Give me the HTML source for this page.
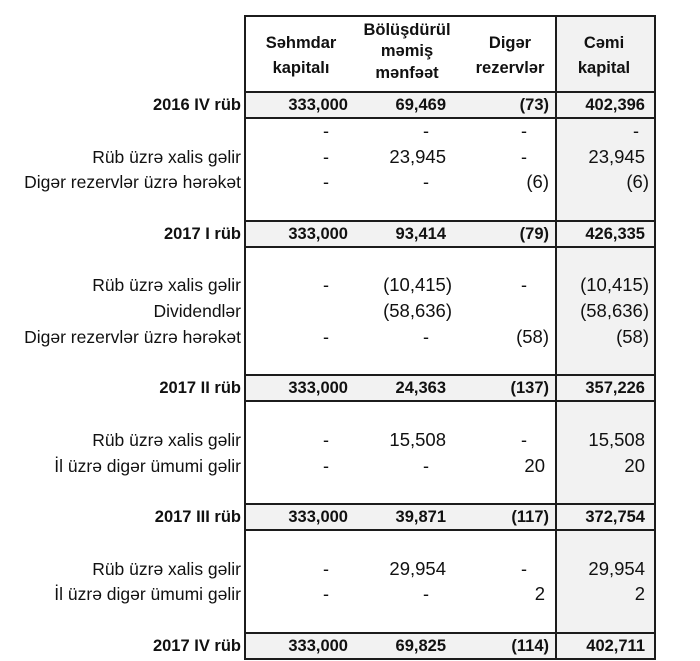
<!DOCTYPE html>
<html>
<head>
<meta charset="utf-8">
<style>
html,body{margin:0;padding:0;background:#fff;}
#c{position:relative;width:700px;height:661px;overflow:hidden;background:#fff;font-family:"Liberation Sans",Arial,sans-serif;color:#111;}
.ln{position:absolute;background:#1c1c1c;}
.g{position:absolute;background:#f2f2f2;}
.r{position:absolute;left:0;width:700px;height:25.76px;}
.r span{position:absolute;top:0;line-height:26px;white-space:nowrap;}
.l{right:459px;font-size:17.5px;}
.b .l{font-weight:bold;font-size:16.5px;}
.d1{left:323px;font-size:18px;}
.d2{left:423px;font-size:18px;}
.d3{left:521px;font-size:18px;}
.d4{left:633px;font-size:18px;}
.p1{right:352px;}
.p2{right:254px;}
.p3{right:155px;}
.p4{right:55px;}
.n2{right:248px;}
.n3{right:151px;}
.n4{right:51px;}
.r .v{font-size:18.5px;}
.b .v{font-size:16.5px;font-weight:bold;}
.h{position:absolute;top:18.5px;height:75px;display:flex;align-items:center;justify-content:center;text-align:center;font-weight:bold;font-size:16.5px;line-height:25px;}
.h3{top:14.5px;line-height:21.5px;}
</style>
</head>
<body>
<div id="c">
<!-- gray column 4 -->
<div class="g" style="left:557px;top:17px;width:97px;height:642px;"></div>
<!-- gray total rows -->
<div class="g" style="left:246px;top:93px;width:409px;height:24px;"></div>
<div class="g" style="left:246px;top:222px;width:409px;height:24px;"></div>
<div class="g" style="left:246px;top:376px;width:409px;height:24px;"></div>
<div class="g" style="left:246px;top:505px;width:409px;height:24px;"></div>
<div class="g" style="left:246px;top:634px;width:409px;height:24px;"></div>

<!-- borders -->
<div class="ln" style="left:244px;top:15px;width:412px;height:2px;"></div>
<div class="ln" style="left:244px;top:15px;width:2px;height:645px;"></div>
<div class="ln" style="left:654px;top:15px;width:2px;height:645px;"></div>
<div class="ln" style="left:555px;top:15px;width:2px;height:645px;"></div>

<div class="ln" style="left:244px;top:91px;width:412px;height:2px;"></div>
<div class="ln" style="left:244px;top:117px;width:412px;height:2px;"></div>
<div class="ln" style="left:244px;top:220px;width:412px;height:2px;"></div>
<div class="ln" style="left:244px;top:245.5px;width:412px;height:2px;"></div>
<div class="ln" style="left:244px;top:374.4px;width:412px;height:2px;"></div>
<div class="ln" style="left:244px;top:400.1px;width:412px;height:2px;"></div>
<div class="ln" style="left:244px;top:503.2px;width:412px;height:2px;"></div>
<div class="ln" style="left:244px;top:528.9px;width:412px;height:2px;"></div>
<div class="ln" style="left:244px;top:632px;width:412px;height:2px;"></div>
<div class="ln" style="left:244px;top:657.7px;width:412px;height:2px;"></div>

<!-- header -->
<div class="h" style="left:251px;width:100px;">Səhmdar<br>kapitalı</div>
<div class="h h3" style="left:357px;width:100px;">Bölüşdürül<br>məmiş<br>mənfəət</div>
<div class="h" style="left:460px;width:100px;">Digər<br>rezervlər</div>
<div class="h" style="left:554px;width:100px;">Cəmi<br>kapital</div>

<!-- row 0 -->
<div class="r b" style="top:92px;"><span class="l">2016 IV rüb</span><span class="v p1">333,000</span><span class="v p2">69,469</span><span class="v n3">(73)</span><span class="v p4">402,396</span></div>
<!-- row 1 -->
<div class="r" style="top:117.76px;"><span class="d1">-</span><span class="d2">-</span><span class="d3">-</span><span class="d4">-</span></div>
<!-- row 2 -->
<div class="r" style="top:143.52px;"><span class="l">Rüb üzrə xalis gəlir</span><span class="d1">-</span><span class="v p2">23,945</span><span class="d3">-</span><span class="v p4">23,945</span></div>
<!-- row 3 -->
<div class="r" style="top:169.28px;"><span class="l">Digər rezervlər üzrə hərəkət</span><span class="d1">-</span><span class="d2">-</span><span class="v n3">(6)</span><span class="v n4">(6)</span></div>
<!-- row 5 -->
<div class="r b" style="top:220.8px;"><span class="l">2017 I rüb</span><span class="v p1">333,000</span><span class="v p2">93,414</span><span class="v n3">(79)</span><span class="v p4">426,335</span></div>
<!-- row 7 -->
<div class="r" style="top:272.32px;"><span class="l">Rüb üzrə xalis gəlir</span><span class="d1">-</span><span class="v n2">(10,415)</span><span class="d3">-</span><span class="v n4">(10,415)</span></div>
<!-- row 8 -->
<div class="r" style="top:298.08px;"><span class="l">Dividendlər</span><span class="v n2">(58,636)</span><span class="v n4">(58,636)</span></div>
<!-- row 9 -->
<div class="r" style="top:323.84px;"><span class="l">Digər rezervlər üzrə hərəkət</span><span class="d1">-</span><span class="d2">-</span><span class="v n3">(58)</span><span class="v n4">(58)</span></div>
<!-- row 11 -->
<div class="r b" style="top:375.36px;"><span class="l">2017 II rüb</span><span class="v p1">333,000</span><span class="v p2">24,363</span><span class="v n3">(137)</span><span class="v p4">357,226</span></div>
<!-- row 13 -->
<div class="r" style="top:426.88px;"><span class="l">Rüb üzrə xalis gəlir</span><span class="d1">-</span><span class="v p2">15,508</span><span class="d3">-</span><span class="v p4">15,508</span></div>
<!-- row 14 -->
<div class="r" style="top:452.64px;"><span class="l">İl üzrə digər ümumi gəlir</span><span class="d1">-</span><span class="d2">-</span><span class="v p3">20</span><span class="v p4">20</span></div>
<!-- row 16 -->
<div class="r b" style="top:504.16px;"><span class="l">2017 III rüb</span><span class="v p1">333,000</span><span class="v p2">39,871</span><span class="v n3">(117)</span><span class="v p4">372,754</span></div>
<!-- row 18 -->
<div class="r" style="top:555.68px;"><span class="l">Rüb üzrə xalis gəlir</span><span class="d1">-</span><span class="v p2">29,954</span><span class="d3">-</span><span class="v p4">29,954</span></div>
<!-- row 19 -->
<div class="r" style="top:581.44px;"><span class="l">İl üzrə digər ümumi gəlir</span><span class="d1">-</span><span class="d2">-</span><span class="v p3">2</span><span class="v p4">2</span></div>
<!-- row 21 -->
<div class="r b" style="top:632.96px;"><span class="l">2017 IV rüb</span><span class="v p1">333,000</span><span class="v p2">69,825</span><span class="v n3">(114)</span><span class="v p4">402,711</span></div>
</div>
</body>
</html>
